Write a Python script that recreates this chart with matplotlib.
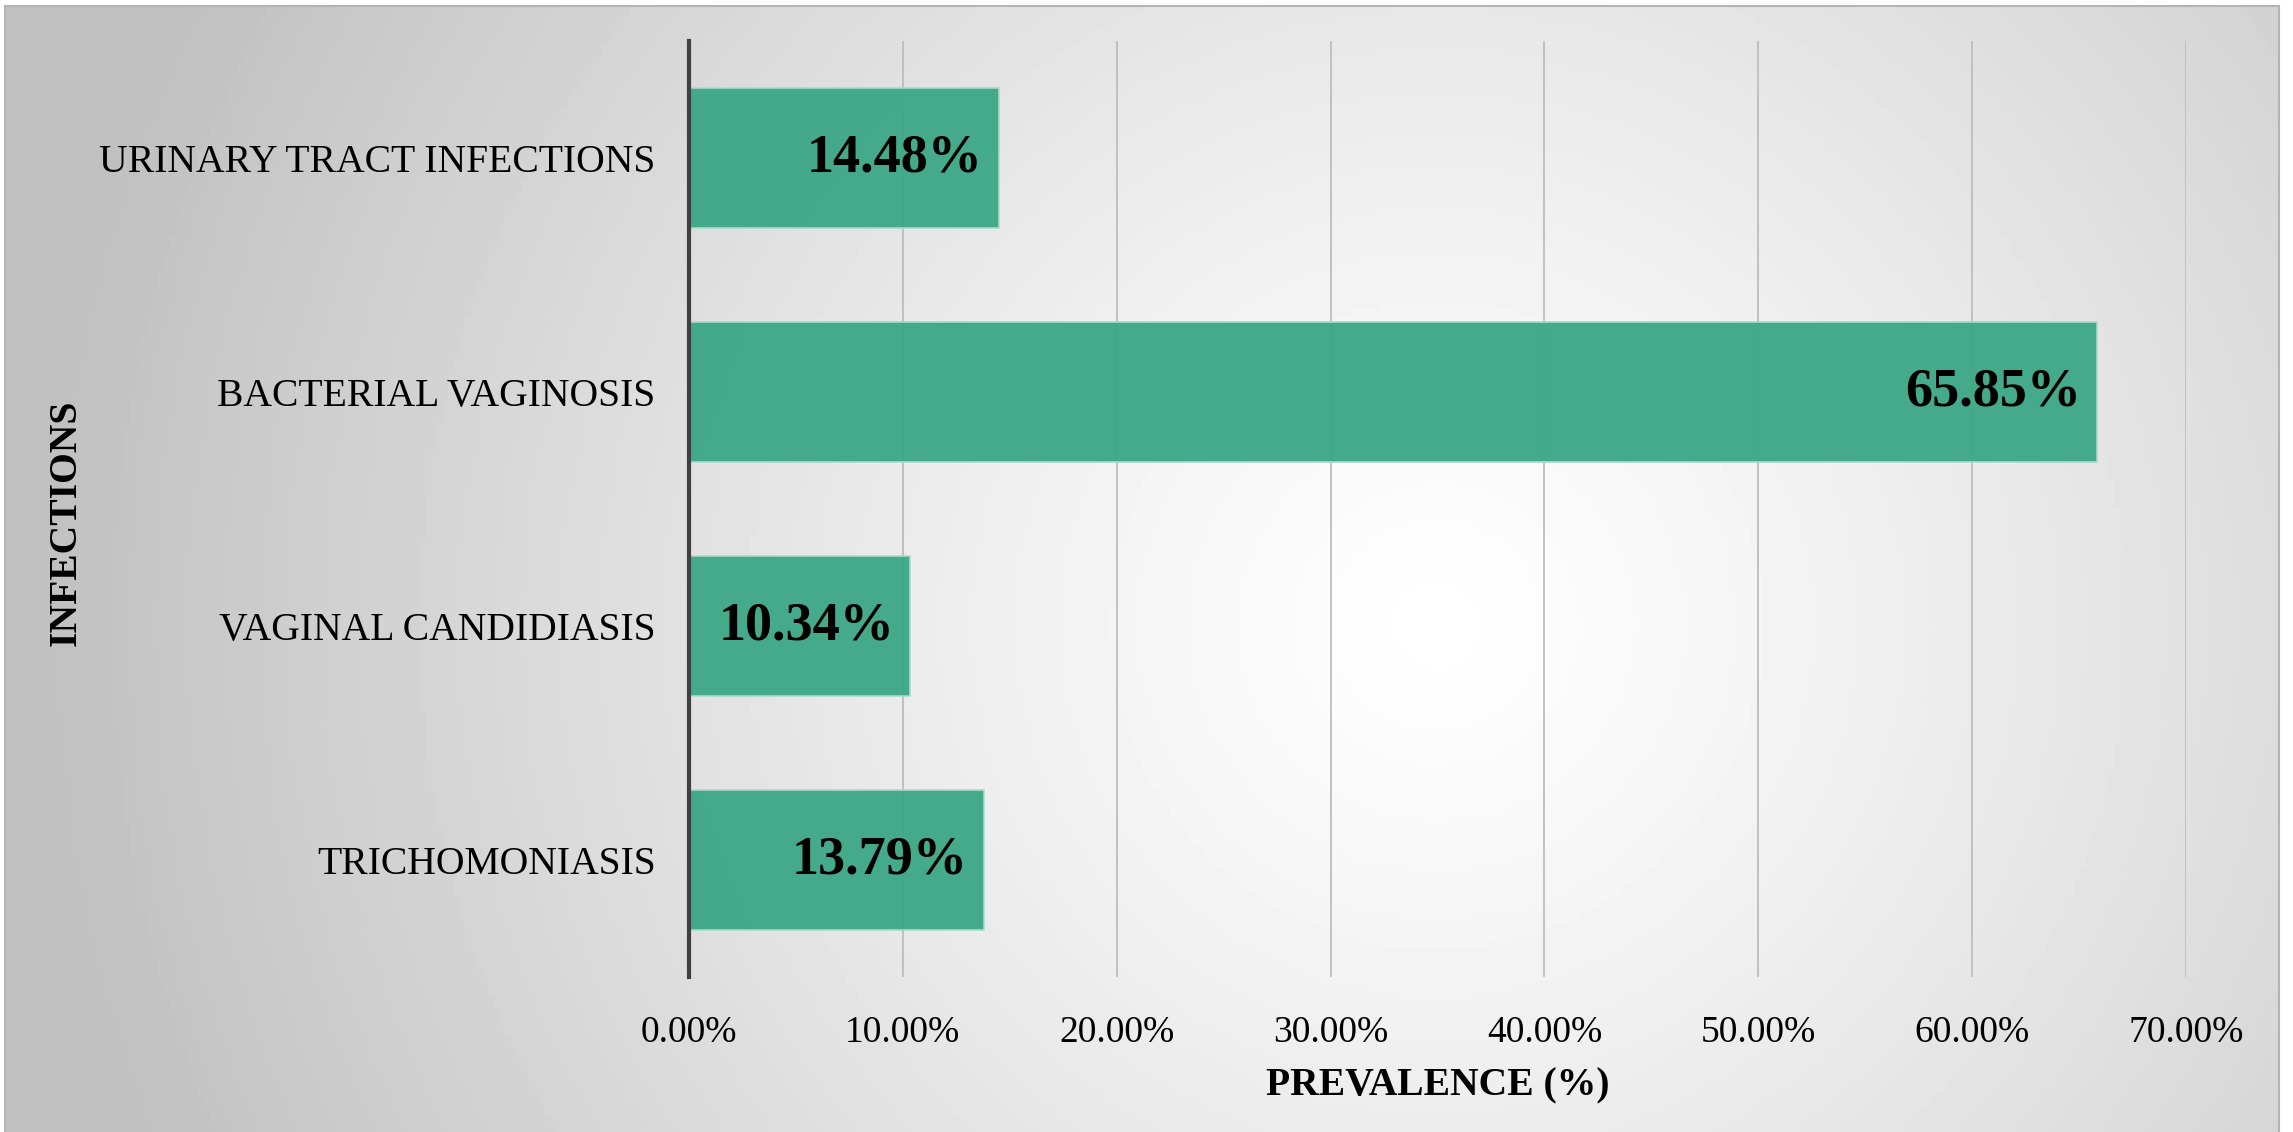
import matplotlib
matplotlib.use("Agg")
from matplotlib import pyplot as plt
import numpy as np

infections = ["URINARY TRACT INFECTIONS", "BACTERIAL VAGINOSIS",
              "VAGINAL CANDIDIASIS", "TRICHOMONIASIS"]
prevalence = [14.48, 65.85, 10.34, 13.79]
xticks = [0, 10, 20, 30, 40, 50, 60, 70]

plt.rcParams['font.family'] = ['Liberation Serif', 'DejaVu Serif']

W, H = 2293, 1132
fig = plt.figure(figsize=(W / 100, H / 100), dpi=100)
fig.patch.set_facecolor("white")

# radial grey background behind the chart
bg = fig.add_axes([5 / W, 0, (2279 - 5) / W, (H - 6) / H])
gx, gy = np.meshgrid(np.linspace(0, 1, 400), np.linspace(0, 1, 200))
cx, cy = 0.63, 0.55
dist = np.sqrt(((gx - cx) * 2.0) ** 2 + (gy - cy) ** 2)
dist = dist / dist.max()
shade = 1.0 - 0.25 * np.clip(dist * 1.1, 0, 1) ** 1.2
bg.imshow(shade, cmap="gray", vmin=0, vmax=1, aspect="auto",
          extent=[0, 1, 0, 1], origin="upper")
bg.set_xticks([])
bg.set_yticks([])
for s in bg.spines.values():
    s.set_color("#b4b4b4")
    s.set_linewidth(1.5)
bg.spines["bottom"].set_visible(False)

ax = fig.add_axes([689 / W, 1 - 977 / H, (2186 - 689) / W, (977 - 41) / H])
ax.patch.set_alpha(0)
pos = np.arange(len(infections))
bars = ax.barh(pos, prevalence, height=0.6, color="#3fa888", alpha=0.97,
               edgecolor="#a8dccb", linewidth=1.2, zorder=3)
ax.set_ylim(len(infections) - 0.5, -0.5)
ax.set_xlim(0, 70)
ax.set_xticks(xticks)
ax.set_xticklabels(["%.2f%%" % t for t in xticks], fontsize=27)
ax.set_yticks(pos)
ax.set_yticklabels(infections, fontsize=28.5)
ax.tick_params(axis="both", length=0)
ax.tick_params(axis="x", pad=28)
ax.tick_params(axis="y", pad=24)
ax.grid(axis="x", color="#bdbdbd", linewidth=1.3, zorder=0)
for s in ["top", "right", "bottom"]:
    ax.spines[s].set_visible(False)
ax.spines["left"].set_color("#404040")
ax.spines["left"].set_linewidth(3)
ax.spines["left"].set_zorder(4)

for p, v in zip(pos, prevalence):
    ax.annotate("%.2f%%" % v, xy=(v, p), xytext=(-16, 0),
                textcoords="offset pixels",
                ha="right", va="center", fontsize=39, fontweight="bold",
                zorder=5)

ax.set_xlabel("PREVALENCE (%)", fontsize=28.5, fontweight="bold", labelpad=12)
ax.set_ylabel("INFECTIONS", fontsize=28.5, fontweight="bold", labelpad=0)
ax.yaxis.set_label_coords(-0.404, 0.485)

fig.savefig("out.png", dpi=100)
